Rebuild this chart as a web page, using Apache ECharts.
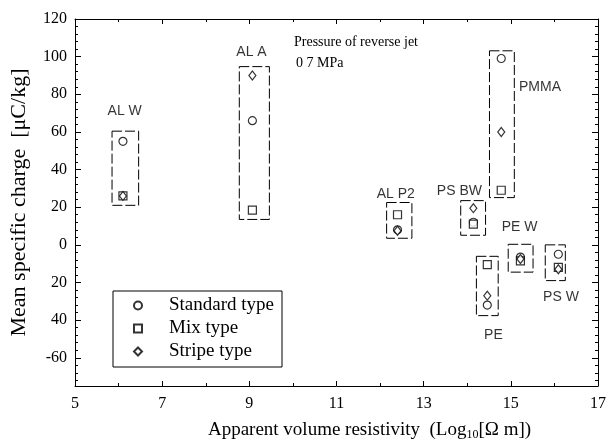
<!DOCTYPE html>
<html><head><meta charset="utf-8">
<script src="https://cdn.jsdelivr.net/npm/echarts@6/dist/echarts.min.js"></script>
<style>html,body{margin:0;padding:0;background:#fff}#c{width:609px;height:446px}</style>
</head><body><div id="c"></div><script>
// ---- data ----
const groupNames   = ['AL W', 'AL A', 'AL P2', 'PS BW', 'PMMA', 'PE', 'PE W', 'PS W'];
const groupX       = [6.10, 9.07, 12.40, 14.14, 14.78, 14.46, 15.22, 16.09];
const standardVals = [55, 66, 8, 12, 99, -32, -6.5, -5];
const mixVals      = [26, 18.5, 16, 11, 29, -10.5, -8.5, -12];
const stripeVals   = [26, 90, 7.5, 19.5, 60, -27, -7.5, -13];

const boxX0 = [5.85, 8.77, 12.15, 13.85, 14.51, 14.21, 14.94, 15.79];
const boxX1 = [6.46, 9.46, 12.73, 14.42, 15.08, 14.71, 15.51, 16.25];
const boxY0 = [21, 13.5, 3.5, 5.1, 25.1, -37.6, -14.5, -19];
const boxY1 = [60.4, 94.7, 22.5, 23.5, 103.1, -6.1, 0.3, 0];

const labelX = [6.14, 9.05, 12.36, 13.82, 15.67, 14.60, 15.20, 16.15];
const labelY = [71, 102.6, 27, 28.5, 84, -48, 9.5, -28];

const xTickStep = 2;
const yTickValues = [-60, -40, -20, 0, 20, 40, 60, 80, 100, 120];
const yTickLabels = ['-60', '40', '20', '0', '20', '40', '60', '80', '100', '120'];
const seriesNames = ['Standard type', 'Mix type', 'Stripe type'];

// ---- build ----
const SERIF = '"Liberation Serif","Times New Roman",serif';
const SANS = '"Liberation Sans",Arial,sans-serif';
const yMinor = [];
for (let v = -72; v <= 120; v += 4) yMinor.push(v);

function pts(vals) { return groupX.map((x, i) => [x, vals[i]]); }

const chart = echarts.init(document.getElementById('c'), null, {renderer: 'canvas'});
const axisLine = {show: true, onZero: false, lineStyle: {color: '#000', width: 1}};
const baseX = {
  type: 'value', min: 5, max: 17, interval: xTickStep,
  axisLine: axisLine, splitLine: {show: false},
  axisTick: {show: true, inside: true, length: 5, lineStyle: {color: '#000'}},
  minorTick: {show: true, splitNumber: 2, length: 3, lineStyle: {color: '#000'}}
};
const baseY = {
  type: 'value', min: -75, max: 120,
  axisLine: axisLine, splitLine: {show: false}
};
const symStyle = {color: '#fff', borderColor: '#000', borderWidth: 1.2};

const option = {
  backgroundColor: '#fff',
  animation: false,
  grid: {left: 75, right: 9, top: 19, bottom: 58},
  xAxis: [
    Object.assign({}, baseX, {
      position: 'bottom',
      axisLabel: {color: '#000', fontFamily: SERIF, fontSize: 16, margin: 10},
      name: 'Apparent volume resistivity  (Log{s|10}[Ω m])',
      nameLocation: 'middle', nameGap: 34,
      nameTextStyle: {color: '#000', fontFamily: SERIF, fontSize: 19, padding: [0, 0, 0, 66],
        rich: {s: {fontFamily: SERIF, fontSize: 12, verticalAlign: 'bottom', padding: [9, 0, 0, 0]}}}
    }),
    Object.assign({}, baseX, {position: 'top', axisLabel: {show: false}})
  ],
  yAxis: [
    Object.assign({}, baseY, {
      position: 'left',
      axisTick: {show: true, inside: true, length: 6, customValues: yTickValues, lineStyle: {color: '#000'}},
      axisLabel: {color: '#000', fontFamily: SERIF, fontSize: 16, margin: 8, customValues: yTickValues,
        formatter: v => { const i = yTickValues.indexOf(v); return i >= 0 ? yTickLabels[i] : ''; }},
      name: 'Mean specific charge  [μC/kg]', nameLocation: 'middle', nameGap: 45,
      nameTextStyle: {color: '#000', fontFamily: SERIF, fontSize: 22}
    }),
    Object.assign({}, baseY, {
      position: 'right',
      axisTick: {show: true, inside: true, length: 6, customValues: yTickValues, lineStyle: {color: '#000'}},
      axisLabel: {show: false}
    }),
    Object.assign({}, baseY, {
      position: 'left', axisLine: {show: false},
      axisTick: {show: true, inside: true, length: 3, customValues: yMinor, lineStyle: {color: '#000'}},
      axisLabel: {show: false}
    }),
    Object.assign({}, baseY, {
      position: 'right', axisLine: {show: false},
      axisTick: {show: true, inside: true, length: 3, customValues: yMinor, lineStyle: {color: '#000'}},
      axisLabel: {show: false}
    })
  ],
  legend: {
    orient: 'vertical', left: 113, top: 291,
    padding: [5, 8, 6, 20],
    borderColor: '#000', borderWidth: 1, backgroundColor: '#fff',
    itemWidth: 8, itemHeight: 8, itemGap: 4,
    data: seriesNames,
    textStyle: {color: '#000', fontFamily: SERIF, fontSize: 19, lineHeight: 19, padding: [0, 0, 0, 22]}
  },
  graphic: [
    {type: 'text', left: 294, top: 35, style: {text: 'Pressure of reverse jet', fill: '#000', font: '14px ' + SERIF}},
    {type: 'text', left: 296, top: 56, style: {text: '0 7 MPa', fill: '#000', font: '14px ' + SERIF}}
  ],
  series: [
    {
      type: 'custom', name: 'boxes', silent: true, z: 1,
      data: groupNames.map((n, i) => [boxX0[i], boxX1[i], boxY0[i], boxY1[i]]),
      encode: {x: [0, 1], y: [2, 3]},
      renderItem: function (params, api) {
        const p0 = api.coord([api.value(0), api.value(3)]);
        const p1 = api.coord([api.value(1), api.value(2)]);
        return {type: 'rect', shape: {x: p0[0], y: p0[1], width: p1[0] - p0[0], height: p1[1] - p0[1]},
          style: {fill: 'none', stroke: '#000', lineWidth: 1, lineDash: [10, 3]}};
      }
    },
    {type: 'scatter', name: seriesNames[0], symbol: 'circle', symbolSize: 8, itemStyle: symStyle, data: pts(standardVals), z: 3},
    {type: 'scatter', name: seriesNames[1], symbol: 'rect', symbolSize: 8, itemStyle: symStyle, data: pts(mixVals), z: 3},
    {type: 'scatter', name: seriesNames[2], symbol: 'diamond', symbolSize: [7, 9], itemStyle: symStyle, data: pts(stripeVals), z: 3},
    {
      type: 'scatter', name: 'labels', symbolSize: 0, silent: true,
      data: groupNames.map((n, i) => ({value: [labelX[i], labelY[i]], name: n})),
      label: {show: true, position: 'inside', formatter: p => p.name, color: '#000', fontFamily: SANS, fontSize: 14}
    }
  ]
};
chart.setOption(option);
</script></body></html>
